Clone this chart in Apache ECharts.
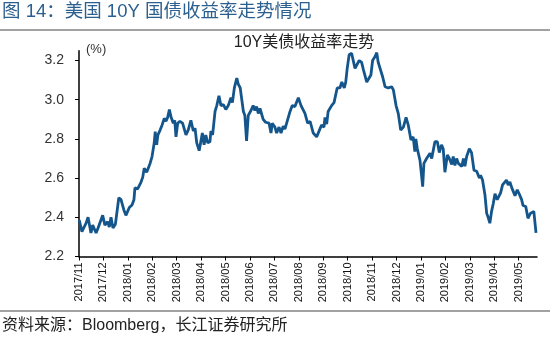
<!DOCTYPE html>
<html><head><meta charset="utf-8">
<script src="https://cdn.jsdelivr.net/npm/echarts@6/dist/echarts.min.js"></script>
<style>html,body{margin:0;padding:0;background:#fff}#c{width:550px;height:340px}</style>
</head><body><div id="c"></div>
<script>
const monthLabels = ['2017/11','2017/12','2018/01','2018/02','2018/03','2018/04','2018/05','2018/06','2018/07','2018/08','2018/09','2018/10','2018/11','2018/12','2019/01','2019/02','2019/03','2019/04','2019/05'];
const yTicks = [2.2, 2.4, 2.6, 2.8, 3.0, 3.2];
// time in months since 2017-11-01
const monthPos = [
 0.01,0.12,0.29,0.37,0.49,0.56,0.70,0.78,0.97,1.06,
 1.17,1.24,1.31,1.39,1.49,1.54,1.63,1.72,1.83,1.92,
 1.99,2.06,2.17,2.25,2.29,2.40,2.47,2.54,2.61,2.67,
 2.77,2.85,2.91,2.99,3.04,3.08,3.12,3.18,3.23,3.32,
 3.40,3.45,3.49,3.56,3.63,3.70,3.77,3.86,3.92,3.97,
 4.04,4.13,4.24,4.31,4.38,4.47,4.58,4.68,4.75,4.82,
 4.92,4.98,
 5.05,5.12,5.19,5.27,5.36,5.40,5.47,5.57,5.64,5.73,
 5.81,5.91,6.01,6.11,6.18,6.22,6.28,6.36,6.46,6.52,
 6.60,6.73,6.79,6.86,6.93,7.04,7.13,7.20,7.27,7.34,
 7.41,7.54,7.64,7.78,7.86,7.91,8.02,8.09,8.19,8.27,
 8.36,8.43,8.50,8.64,8.73,8.84,8.98,9.09,9.14,9.25,
 9.36,9.46,9.59,
 9.73,9.86,9.93,10.03,10.07,10.14,10.20,10.27,10.34,10.44,
 10.52,10.57,10.68,10.76,10.86,10.92,10.98,11.06,11.16,11.30,
 11.37,11.47,11.57,11.64,11.78,11.86,11.95,12.02,12.12,12.19,
 12.25,12.32,12.43,12.53,12.66,12.80,12.87,12.98,13.07,13.17,
 13.28,13.39,13.48,13.59,13.68,13.75,13.79,13.85,13.96,
 14.03,14.07,14.12,14.23,14.30,14.37,14.44,14.50,14.57,14.67,
 14.75,14.80,14.84,14.91,14.98,15.08,15.16,15.26,15.32,15.39,
 15.46,15.53,15.60,15.67,15.74,15.80,15.87,15.98,16.07,16.17,
 16.28,16.39,16.44,16.52,16.62,16.69,16.75,16.82,16.89,16.96,
 17.03,17.12,17.20,17.26,17.34,17.41,17.50,17.57,17.64,17.72,
 17.78,17.85,17.94,18.02,18.12,18.18,18.29,18.38,18.48,18.53,
 18.62,18.71
];
const yieldPct = [
 2.386,2.327,2.37,2.40,2.32,2.36,2.32,2.345,2.41,2.36,
 2.378,2.35,2.40,2.345,2.365,2.37,2.50,2.49,2.44,2.41,
 2.415,2.45,2.463,2.49,2.55,2.545,2.55,2.58,2.605,2.65,
 2.63,2.64,2.675,2.71,2.72,2.78,2.837,2.77,2.82,2.845,
 2.87,2.86,2.905,2.89,2.91,2.95,2.91,2.88,2.895,2.81,
 2.88,2.89,2.88,2.89,2.82,2.845,2.895,2.84,2.855,2.78,
 2.74,2.735,
 2.83,2.77,2.82,2.78,2.785,2.84,2.82,2.94,2.97,3.02,
 2.97,2.975,2.95,2.97,2.96,3.01,2.985,3.06,3.11,3.08,
 3.06,2.94,2.92,2.79,2.92,2.945,2.97,2.945,2.965,2.93,
 2.955,2.90,2.885,2.88,2.83,2.88,2.86,2.83,2.86,2.83,
 2.865,2.85,2.86,2.94,2.97,2.965,3.01,2.97,2.98,2.93,
 2.88,2.89,2.83,
 2.81,2.85,2.87,2.86,2.91,2.875,2.94,2.935,2.97,2.985,
 2.99,3.06,3.06,3.09,3.06,3.09,3.16,3.23,3.237,3.16,
 3.155,3.20,3.19,3.155,3.09,3.085,3.126,3.20,3.22,3.24,
 3.19,3.195,3.117,3.066,3.06,3.066,3.05,2.97,2.93,2.845,
 2.86,2.91,2.87,2.795,2.81,2.735,2.80,2.75,2.69,
 2.68,2.556,2.675,2.70,2.69,2.727,2.70,2.70,2.786,2.786,
 2.73,2.74,2.77,2.75,2.63,2.718,2.70,2.67,2.71,2.665,
 2.70,2.675,2.68,2.66,2.70,2.66,2.71,2.75,2.73,2.64,
 2.635,2.60,2.615,2.59,2.514,2.42,2.40,2.37,2.43,2.47,
 2.52,2.49,2.50,2.525,2.565,2.555,2.59,2.565,2.58,2.55,
 2.545,2.51,2.54,2.52,2.49,2.46,2.455,2.395,2.42,2.41,
 2.43,2.32
];
const figTitle = '图 14：美国 10Y 国债收益率走势情况';
const chartTitle = '10Y美债收益率走势';
const unitLabel = '(%)';
const sourceText = '资料来源：Bloomberg，长江证券研究所';

const FONT = '"Liberation Sans", Arial, "Noto Sans CJK SC", sans-serif';
const chart = echarts.init(document.getElementById('c'), null, {renderer: 'canvas'});
const xTickVals = monthLabels.map((_, i) => i);
chart.setOption({
  animation: false,
  backgroundColor: '#fff',
  textStyle: {fontFamily: FONT},
  grid: {left: 79, right: 13, top: 50.7, bottom: 83.5, containLabel: false},
  xAxis: {
    type: 'value', min: 0, max: 18.75,
    axisLine: {show: true, lineStyle: {color: '#000', width: 1.5}},
    axisTick: {show: true, length: 4, inside: false, customValues: xTickVals, lineStyle: {color: '#000', width: 1}},
    axisLabel: {show: true, rotate: 90, margin: 6, fontSize: 11, color: '#111', fontFamily: FONT,
      customValues: xTickVals, formatter: v => monthLabels[Math.round(v)] || ''},
    splitLine: {show: false}
  },
  yAxis: {
    type: 'value', min: 2.2, max: 3.25,
    axisLine: {show: true, lineStyle: {color: '#000', width: 1.5}},
    axisTick: {show: true, length: 4, customValues: yTicks, lineStyle: {color: '#000', width: 1}},
    axisLabel: {show: true, margin: 15, fontSize: 14, color: '#333', fontFamily: FONT,
      customValues: yTicks, formatter: v => v.toFixed(1)},
    splitLine: {show: false}
  },
  series: [{
    type: 'line',
    data: monthPos.map((m, i) => [m, yieldPct[i]]),
    symbol: 'none', smooth: false,
    lineStyle: {color: '#14568c', width: 2.8},
    itemStyle: {color: '#14568c'}
  }],
  graphic: [
    {type: 'text', left: 2, top: 3, style: {text: figTitle, fontSize: 18.5, fill: '#2b5f8f', fontFamily: FONT}},
    {type: 'line', shape: {x1: 0, y1: 30, x2: 550, y2: 30}, style: {stroke: '#444', lineWidth: 1}},
    {type: 'text', x: 304, y: 43, style: {text: chartTitle, fontSize: 16, fill: '#222', align: 'center', verticalAlign: 'middle', fontFamily: FONT}},
    {type: 'text', x: 86, y: 49, style: {text: unitLabel, fontSize: 13, fill: '#333', verticalAlign: 'middle', fontFamily: FONT}},
    {type: 'line', shape: {x1: 0, y1: 311, x2: 550, y2: 311}, style: {stroke: '#444', lineWidth: 1}},
    {type: 'text', left: 2, top: 318, style: {text: sourceText, fontSize: 16, fill: '#222', fontFamily: FONT}}
  ]
});
</script></body></html>
